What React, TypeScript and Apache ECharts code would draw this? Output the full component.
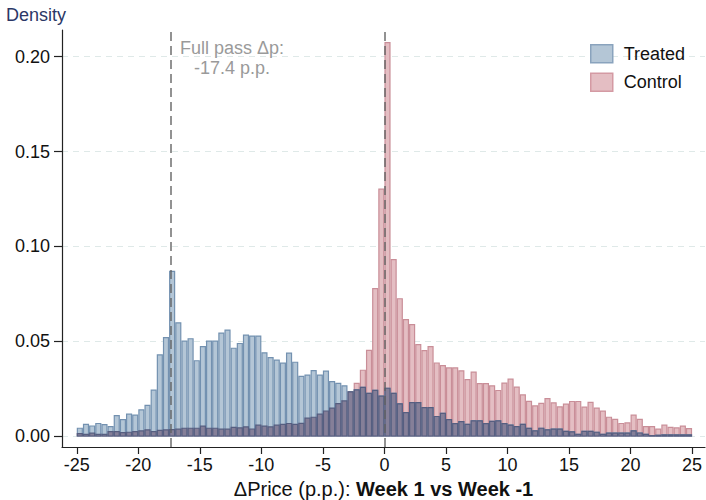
import React, { useEffect, useRef } from "react";
import * as echarts from "echarts";

// Histogram bins: width 0.5, first bin starts at -25
const BIN_START = -25;
const BIN_WIDTH = 0.5;

// Density per bin (Treated)
const treated = [
  0.0044, 0.0065, 0.0056, 0.0069, 0.0063, 0.0053, 0.0111, 0.009, 0.0118, 0.0113,
  0.0141, 0.0165, 0.0245, 0.0431, 0.0522, 0.0871, 0.06, 0.0503, 0.0516, 0.04,
  0.0475, 0.0503, 0.0503, 0.0546, 0.0562, 0.0466, 0.0491, 0.0535, 0.053, 0.053,
  0.0442, 0.0416, 0.0403, 0.0387, 0.044, 0.0392, 0.0318, 0.0324, 0.0348, 0.0324,
  0.0345, 0.029, 0.0281, 0.0268, 0.0236, 0.0246, 0.026, 0.0228, 0.0244, 0.0213,
  0.0255, 0.0228, 0.0173, 0.0126, 0.0179, 0.0179, 0.0153, 0.0153, 0.0106, 0.0123,
  0.009, 0.0068, 0.0079, 0.0064, 0.0083, 0.0083, 0.0068, 0.008, 0.0083, 0.0068,
  0.0061, 0.0053, 0.0065, 0.0043, 0.003, 0.0044, 0.0035, 0.0039, 0.0039, 0.0028,
  0.0025, 0.0012, 0.0028, 0.0028, 0.0023, 0.0012, 0.0018, 0.0018, 0.0018, 0.0018,
  0.003, 0.0019, 0.0012, 0.0005, 0.0007, 0.0009, 0.0009, 0.0009, 0.0009, 0.0009,
];

// Density per bin (Control)
const control = [
  0.0016, 0.0012, 0.0018, 0.0012, 0.0012, 0.0026, 0.0026, 0.0021, 0.0023, 0.0026,
  0.003, 0.0035, 0.0026, 0.0033, 0.0035, 0.0037, 0.0039, 0.0044, 0.0044, 0.0044,
  0.0055, 0.0044, 0.0044, 0.0039, 0.0039, 0.0049, 0.0046, 0.0051, 0.004, 0.006,
  0.0055, 0.0051, 0.006, 0.0065, 0.0069, 0.0065, 0.007, 0.0097, 0.0102, 0.0118,
  0.0135, 0.015, 0.0174, 0.0188, 0.0236, 0.0281, 0.035, 0.0455, 0.078, 0.1305,
  0.2078, 0.0933, 0.0727, 0.0617, 0.0591, 0.0485, 0.0453, 0.0474, 0.0388, 0.0374,
  0.0362, 0.0362, 0.0347, 0.03, 0.034, 0.0279, 0.0279, 0.0268, 0.0243, 0.0282,
  0.0303, 0.0261, 0.022, 0.0186, 0.0162, 0.0175, 0.02, 0.0178, 0.0157, 0.0171,
  0.0185, 0.0185, 0.0155, 0.0181, 0.015, 0.0134, 0.0102, 0.0091, 0.0069, 0.0072,
  0.0113, 0.0091, 0.0053, 0.0053, 0.0039, 0.006, 0.0049, 0.0046, 0.0055, 0.0042,
];

const xTicks = [-25, -20, -15, -10, -5, 0, 5, 10, 15, 20, 25];
const yTicks = [0, 0.05, 0.1, 0.15, 0.2];
const fullPass = -17.4;

const FONT = "'Liberation Sans', Arial, Helvetica, sans-serif";

const TREATED_FILL = "#b4c6d6";
const TREATED_STROKE = "#7391b0";
const CONTROL_FILL = "#e4bec3";
const CONTROL_STROKE = "#c98e98";
const OVERLAP_FILL = "#857f98";
const OVERLAP_STROKE = "#565e80";

function toRows(values: number[]) {
  return values.map((v, i) => [
    BIN_START + i * BIN_WIDTH,
    BIN_START + (i + 1) * BIN_WIDTH,
    v,
  ]);
}

function histSeries(name: string, values: number[], fill: string, stroke: string, z: number, extra: any = {}) {
  return {
    type: "custom",
    name,
    z,
    itemStyle: { color: fill, borderColor: stroke, borderWidth: 1.2 },
    data: toRows(values),
    encode: { x: [0, 1], y: 2 },
    renderItem: (_params: any, api: any) => {
      const x0 = api.value(0);
      const x1 = api.value(1);
      const y = api.value(2);
      const pTop = api.coord([x0, y]);
      const pBot = api.coord([x1, 0]);
      const lw = 1.2;
      return {
        type: "rect",
        shape: {
          x: pTop[0] + lw / 2,
          y: pTop[1] + lw / 2,
          width: Math.max(0, pBot[0] - pTop[0] - lw),
          height: Math.max(0, pBot[1] - pTop[1] - lw / 2),
        },
        style: { fill, stroke, lineWidth: lw },
      };
    },
    ...extra,
  };
}

export default function App() {
  const ref = useRef<HTMLDivElement>(null);

  useEffect(() => {
    if (!ref.current) return;
    const chart = echarts.init(ref.current, undefined, { renderer: "svg" });
    const overlap = treated.map((t, i) => Math.min(t, control[i]));

    chart.setOption({
      animation: false,
      backgroundColor: "#ffffff",
      textStyle: { fontFamily: FONT },
      title: {
        text: "Density",
        left: 6,
        top: 6,
        padding: 0,
        textStyle: { fontSize: 18, fontWeight: "normal", color: "#2b3766", fontFamily: FONT },
      },
      legend: {
        left: 590,
        top: 44,
        padding: 0,
        orient: "vertical",
        itemWidth: 22,
        itemHeight: 18,
        itemGap: 9,
        icon: "rect",
        textStyle: { fontSize: 18, color: "#111", fontFamily: FONT, padding: [0, 0, 0, 6] },
        data: [
          { name: "Treated", itemStyle: { color: TREATED_FILL, borderColor: "#8aa3bd", borderWidth: 1.5 } },
          { name: "Control", itemStyle: { color: CONTROL_FILL, borderColor: "#d49aa3", borderWidth: 1.5 } },
        ],
      },
      grid: { left: 62, right: 1, top: 30, bottom: 53, containLabel: false, outerBoundsMode: "none" },
      xAxis: {
        type: "value",
        min: -26.2,
        max: 26.05,
        name: "{n|ΔPrice (p.p.): }{b|Week 1 vs Week -1}",
        nameLocation: "middle",
        nameGap: 29,
        nameTextStyle: {
          rich: {
            n: { fontSize: 20, color: "#111", fontFamily: FONT },
            b: { fontSize: 20, color: "#111", fontWeight: "bold", fontFamily: FONT },
          },
        },
        axisLine: { show: true, onZero: false, lineStyle: { color: "#222", width: 1.2 } },
        axisTick: { show: true, length: 7, customValues: xTicks, lineStyle: { color: "#222", width: 1.2 } },
        axisLabel: {
          customValues: xTicks,
          fontSize: 18,
          color: "#111",
          margin: 9,
          fontFamily: FONT,
          formatter: (v: number) => String(v),
        },
        splitLine: { show: false },
      },
      yAxis: {
        type: "value",
        min: -0.0058,
        max: 0.2141,
        axisLine: { show: true, onZero: false, lineStyle: { color: "#222", width: 1.2 } },
        axisTick: { show: true, length: 8, customValues: yTicks, lineStyle: { color: "#222", width: 1.2 } },
        axisLabel: {
          customValues: yTicks,
          fontSize: 18,
          color: "#111",
          margin: 12,
          fontFamily: FONT,
          formatter: (v: number) => v.toFixed(2),
        },
        splitLine: {
          show: true,
          lineStyle: { color: "#dfe9e8", type: [6, 5], width: 1.2 },
        },
      },
      series: [
        histSeries("Control", control, CONTROL_FILL, CONTROL_STROKE, 2),
        histSeries("Treated", treated, TREATED_FILL, TREATED_STROKE, 3),
        histSeries("Overlap", overlap, OVERLAP_FILL, OVERLAP_STROKE, 4, {
          markLine: {
            silent: true,
            symbol: "none",
            label: { show: false },
            lineStyle: { type: [9, 5], color: "rgba(95,95,95,0.85)", width: 1.6 },
            data: [{ xAxis: fullPass }, { xAxis: 0 }],
          },
        }),
      ],
      graphic: [
        {
          type: "text",
          x: 232,
          y: 38,
          z: 10,
          style: {
            text: "Full pass Δp:\n" + fullPass.toFixed(1) + " p.p.",
            textAlign: "center",
            fill: "#9a9a9a",
            fontSize: 18,
            lineHeight: 20,
            fontFamily: FONT,
          },
        },
      ],
    });

    return () => chart.dispose();
  }, []);

  return (
    <div
      ref={ref}
      style={{ position: "fixed", left: 0, top: 0, width: 706, height: 500 }}
    />
  );
}
